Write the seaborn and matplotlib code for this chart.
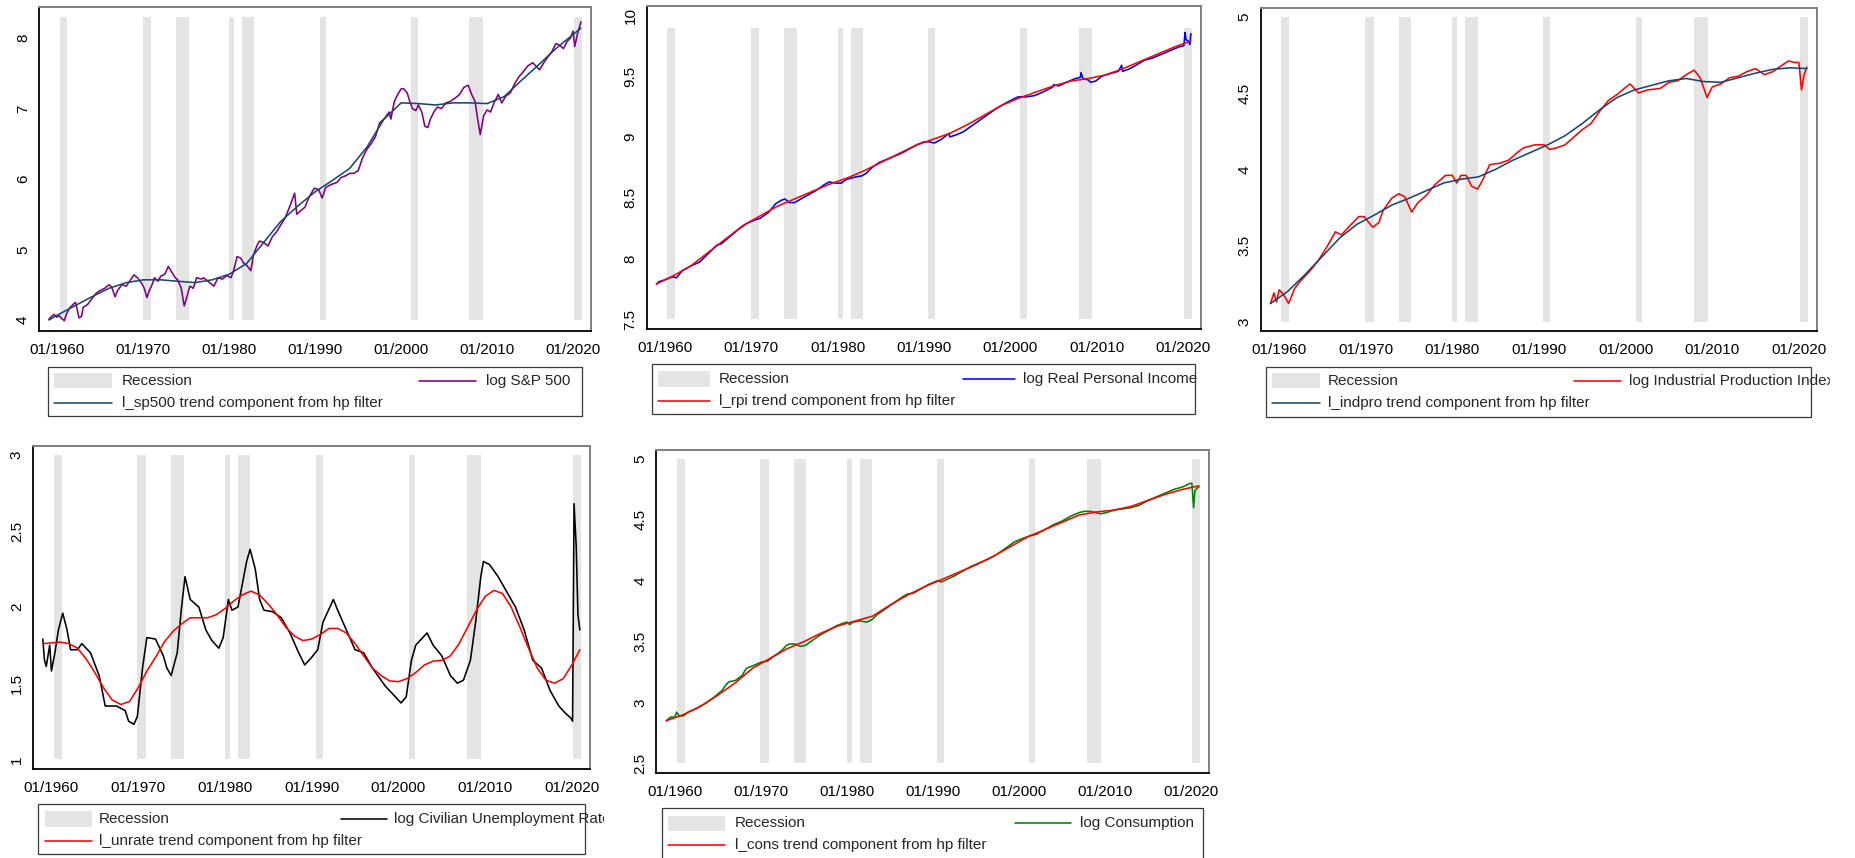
import numpy as np
import pandas as pd
import matplotlib
matplotlib.use("Agg")
import matplotlib.pyplot as plt
import seaborn as sns
from matplotlib.patches import Rectangle
from matplotlib.lines import Line2D
from matplotlib.transforms import Bbox, TransformedBbox

# ---------------------------------------------------------------- data
# NBER recession months (first and last month of each episode)
recession_start = ["1960-04", "1969-12", "1973-11", "1980-01", "1981-07",
                   "1990-07", "2001-03", "2007-12", "2020-02"]
recession_end = ["1961-02", "1970-11", "1975-03", "1980-07", "1982-11",
                 "1991-03", "2001-11", "2009-06", "2020-12"]

xtick_years = [1960, 1970, 1980, 1990, 2000, 2010, 2020]
xtick_labels = ["01/1960", "01/1970", "01/1980", "01/1990", "01/2000", "01/2010", "01/2020"]

# log S&P 500 and its HP trend
sp500_t = [1959.0, 1959.3, 1959.6, 1959.9, 1960.2, 1960.5, 1960.8, 1961.0, 1961.4, 1961.9,
           1962.1, 1962.3, 1962.5, 1962.8, 1963.0, 1963.5, 1964.0, 1964.5, 1965.0, 1965.5,
           1966.0, 1966.3, 1966.7, 1967.0, 1967.5, 1968.0, 1968.4, 1968.9, 1969.3, 1969.8,
           1970.1, 1970.4, 1970.7, 1971.0, 1971.3, 1971.7, 1972.0, 1972.5, 1972.9, 1973.3,
           1973.7, 1974.0, 1974.4, 1974.75, 1975.0, 1975.4, 1975.8, 1976.2, 1976.8, 1977.0,
           1977.5, 1978.2, 1978.7, 1979.2, 1979.7, 1980.2, 1980.5, 1980.9, 1981.3, 1981.7,
           1982.0, 1982.5, 1982.8, 1983.2, 1983.5, 1984.0, 1984.5, 1985.0, 1985.5, 1986.0,
           1986.5, 1987.0, 1987.6, 1987.85, 1988.3, 1988.8, 1989.3, 1989.9, 1990.4, 1990.8,
           1991.2, 1991.8, 1992.5, 1993.0, 1993.6, 1994.0, 1994.5, 1995.0, 1995.5, 1996.0,
           1996.5, 1997.0, 1997.5, 1998.0, 1998.6, 1998.8, 1999.2, 1999.6, 2000.0, 2000.3,
           2000.7, 2001.0, 2001.3, 2001.7, 2002.0, 2002.4, 2002.75, 2003.1, 2003.4, 2003.8,
           2004.2, 2004.7, 2005.2, 2005.7, 2006.3, 2006.8, 2007.3, 2007.8, 2008.2, 2008.6,
           2008.9, 2009.2, 2009.6, 2010.0, 2010.4, 2010.8, 2011.3, 2011.7, 2012.2, 2012.7,
           2013.2, 2013.7, 2014.2, 2014.7, 2015.3, 2015.7, 2016.1, 2016.6, 2017.0, 2017.5,
           2018.0, 2018.4, 2018.9, 2019.3, 2019.7, 2020.0, 2020.2, 2020.5, 2020.92]
sp500_v = [4.01, 4.05, 4.08, 4.04, 4.06, 4.02, 3.99, 4.07, 4.17, 4.23,
           4.25, 4.15, 4.03, 4.05, 4.18, 4.22, 4.30, 4.38, 4.42, 4.45,
           4.50, 4.47, 4.33, 4.42, 4.50, 4.48, 4.55, 4.64, 4.60, 4.52,
           4.45, 4.32, 4.42, 4.50, 4.60, 4.55, 4.62, 4.65, 4.76, 4.68,
           4.60, 4.57, 4.45, 4.20, 4.30, 4.48, 4.45, 4.60, 4.58, 4.60,
           4.55, 4.48, 4.60, 4.58, 4.63, 4.60, 4.70, 4.90, 4.88, 4.80,
           4.78, 4.70, 4.92, 5.05, 5.12, 5.10, 5.05, 5.18, 5.25, 5.35,
           5.45, 5.60, 5.80, 5.50, 5.55, 5.60, 5.75, 5.87, 5.85, 5.73,
           5.88, 5.92, 5.95, 6.02, 6.05, 6.08, 6.08, 6.12, 6.30, 6.42,
           6.50, 6.60, 6.80, 6.85, 6.95, 6.85, 7.10, 7.20, 7.28, 7.28,
           7.22, 7.10, 7.00, 6.97, 7.05, 6.95, 6.75, 6.73, 6.85, 6.95,
           7.02, 7.00, 7.08, 7.10, 7.15, 7.20, 7.30, 7.33, 7.20, 7.10,
           6.85, 6.63, 6.90, 6.98, 6.95, 7.08, 7.20, 7.08, 7.18, 7.22,
           7.35, 7.45, 7.52, 7.60, 7.65, 7.60, 7.55, 7.65, 7.72, 7.80,
           7.92, 7.90, 7.85, 7.95, 8.00, 8.10, 7.88, 8.05, 8.23]
sp500_trend_t = [1959.0, 1960, 1962, 1964, 1966, 1968, 1970, 1972, 1974, 1976, 1978, 1980,
                 1982, 1984, 1986, 1988, 1990, 1992, 1994, 1996, 1998, 2000, 2002, 2004,
                 2006, 2008, 2010, 2012, 2014, 2016, 2018, 2020, 2020.92]
sp500_trend_v = [4.00, 4.07, 4.20, 4.33, 4.45, 4.53, 4.57, 4.57, 4.55, 4.53, 4.57, 4.65,
                 4.80, 5.10, 5.40, 5.62, 5.82, 5.98, 6.15, 6.45, 6.85, 7.08, 7.07, 7.05,
                 7.08, 7.08, 7.07, 7.17, 7.40, 7.62, 7.85, 8.05, 8.14]

# log real personal income and its HP trend
rpi_t = [1959.0, 1959.3, 1959.8, 1960.5, 1961.0, 1961.3, 1962.0, 1963.0, 1964.0, 1965.0,
         1966.0, 1966.5, 1967.5, 1968.5, 1969.5, 1970.5, 1971.0, 1972.0, 1972.8, 1973.5,
         1973.9, 1974.4, 1975.0, 1975.5, 1976.5, 1977.5, 1978.5, 1979.0, 1979.8, 1980.4,
         1981.0, 1982.0, 1982.8, 1983.3, 1984.0, 1984.8, 1985.5, 1986.5, 1987.5, 1988.5,
         1989.3, 1990.0, 1990.6, 1991.2, 1992.0, 1992.9, 1993.0, 1993.8, 1994.5, 1995.5,
         1996.5, 1997.5, 1998.5, 1999.5, 2000.3, 2000.9, 2001.8, 2002.8, 2003.8, 2004.9,
         2005.0, 2005.6, 2006.5, 2007.5, 2008.1, 2008.2, 2008.4, 2009.0, 2009.3, 2009.9,
         2010.6, 2011.5, 2012.5, 2012.9, 2013.0, 2013.8, 2014.8, 2015.5, 2016.5, 2017.5,
         2018.5, 2019.5, 2020.1, 2020.25, 2020.35, 2020.6, 2020.8, 2020.92]
rpi_v = [7.79, 7.81, 7.82, 7.84, 7.85, 7.84, 7.90, 7.94, 7.97, 8.04,
         8.11, 8.12, 8.18, 8.24, 8.29, 8.32, 8.33, 8.38, 8.45, 8.48,
         8.49, 8.46, 8.46, 8.48, 8.52, 8.56, 8.61, 8.63, 8.62, 8.62,
         8.65, 8.67, 8.68, 8.70, 8.75, 8.79, 8.81, 8.84, 8.87, 8.91,
         8.94, 8.96, 8.96, 8.95, 8.98, 9.03, 9.00, 9.02, 9.04, 9.09,
         9.14, 9.19, 9.24, 9.28, 9.31, 9.33, 9.33, 9.34, 9.37, 9.41,
         9.43, 9.42, 9.45, 9.48, 9.49, 9.53, 9.48, 9.47, 9.45, 9.46,
         9.50, 9.52, 9.54, 9.59, 9.54, 9.56, 9.60, 9.63, 9.65, 9.68,
         9.71, 9.74, 9.75, 9.86, 9.80, 9.79, 9.76, 9.85]
rpi_trend_t = [1959.0, 1961, 1963, 1965, 1967, 1969, 1971, 1973, 1975, 1977, 1979, 1981,
               1983, 1985, 1987, 1989, 1991, 1993, 1995, 1997, 1999, 2001, 2003, 2005,
               2007, 2009, 2011, 2013, 2015, 2017, 2019, 2020.92]
rpi_trend_v = [7.79, 7.86, 7.94, 8.05, 8.16, 8.27, 8.35, 8.43, 8.49, 8.55, 8.61, 8.66,
               8.72, 8.79, 8.86, 8.93, 8.98, 9.03, 9.10, 9.18, 9.26, 9.32, 9.37, 9.42,
               9.46, 9.48, 9.51, 9.56, 9.62, 9.68, 9.74, 9.79]

# log industrial production index and its HP trend
indpro_t = [1959.0, 1959.4, 1959.7, 1960.0, 1960.5, 1961.1, 1961.8, 1962.5, 1963.5, 1964.5,
            1965.5, 1966.5, 1967.2, 1968.0, 1969.2, 1969.8, 1970.8, 1971.5, 1972.0, 1973.0,
            1973.8, 1974.5, 1975.3, 1976.0, 1977.0, 1978.0, 1979.2, 1980.0, 1980.5, 1981.0,
            1981.6, 1982.2, 1982.9, 1983.5, 1984.3, 1985.5, 1986.5, 1987.5, 1988.2, 1989.5,
            1990.6, 1991.2, 1992.0, 1993.0, 1994.0, 1995.0, 1996.0, 1997.0, 1998.0, 1999.0,
            2000.5, 2001.5, 2002.5, 2004.0, 2005.0, 2006.0, 2007.0, 2007.9, 2008.6, 2009.4,
            2010.0, 2011.0, 2012.0, 2013.0, 2014.0, 2015.0, 2016.0, 2017.0, 2018.0, 2018.8,
            2019.5, 2020.0, 2020.3, 2020.6, 2020.92]
indpro_v = [3.12, 3.19, 3.13, 3.21, 3.18, 3.12, 3.22, 3.27, 3.33, 3.40,
            3.49, 3.59, 3.57, 3.62, 3.69, 3.69, 3.62, 3.65, 3.73, 3.81,
            3.84, 3.82, 3.72, 3.78, 3.83, 3.90, 3.96, 3.96, 3.91, 3.96,
            3.96, 3.89, 3.87, 3.93, 4.03, 4.04, 4.06, 4.11, 4.14, 4.16,
            4.16, 4.13, 4.14, 4.16, 4.21, 4.26, 4.30, 4.38, 4.45, 4.49,
            4.56, 4.50, 4.52, 4.53, 4.57, 4.58, 4.62, 4.65, 4.60, 4.47,
            4.54, 4.56, 4.60, 4.61, 4.64, 4.66, 4.62, 4.64, 4.68, 4.71,
            4.70, 4.70, 4.52, 4.62, 4.67]
indpro_trend_t = [1959.0, 1961, 1963, 1965, 1967, 1969, 1971, 1973, 1975, 1977, 1979, 1981,
                  1983, 1985, 1987, 1989, 1991, 1993, 1995, 1997, 1999, 2001, 2003, 2005,
                  2007, 2009, 2011, 2013, 2015, 2017, 2019, 2020.92]
indpro_trend_v = [3.12, 3.20, 3.31, 3.43, 3.55, 3.64, 3.70, 3.765, 3.81, 3.86, 3.91, 3.935,
                  3.95, 4.00, 4.06, 4.11, 4.16, 4.22, 4.30, 4.39, 4.47, 4.52, 4.55, 4.58,
                  4.595, 4.575, 4.57, 4.60, 4.63, 4.655, 4.665, 4.66]

# log civilian unemployment rate and its HP trend
unrate_t = [1959.0, 1959.2, 1959.4, 1959.8, 1960.0, 1960.4, 1960.8, 1961.3, 1961.8, 1962.2,
            1963.0, 1963.5, 1964.5, 1965.5, 1966.2, 1967.5, 1968.5, 1968.9, 1969.5, 1969.9,
            1970.5, 1971.0, 1972.0, 1972.9, 1973.3, 1973.8, 1974.5, 1975.0, 1975.4, 1976.0,
            1977.0, 1977.8, 1978.5, 1979.3, 1979.8, 1980.4, 1980.8, 1981.5, 1982.5, 1982.9,
            1983.5, 1984.0, 1984.5, 1985.5, 1986.5, 1987.5, 1988.5, 1989.2, 1990.0, 1990.7,
            1991.3, 1992.5, 1993.0, 1994.0, 1995.0, 1996.0, 1997.0, 1998.5, 1999.5, 2000.3,
            2000.9, 2001.5, 2002.0, 2003.3, 2004.0, 2005.0, 2006.0, 2006.8, 2007.5, 2008.3,
            2008.9, 2009.5, 2009.8, 2010.5, 2011.5, 2012.5, 2013.5, 2014.5, 2015.5, 2016.5,
            2017.5, 2018.5, 2019.3, 2019.9, 2020.08, 2020.25, 2020.5, 2020.7, 2020.92]
unrate_v = [1.79, 1.65, 1.61, 1.75, 1.58, 1.70, 1.85, 1.96, 1.85, 1.72,
            1.72, 1.76, 1.70, 1.55, 1.35, 1.35, 1.32, 1.25, 1.23, 1.28,
            1.60, 1.80, 1.79, 1.68, 1.60, 1.55, 1.70, 2.00, 2.20, 2.05,
            2.00, 1.85, 1.78, 1.73, 1.80, 2.05, 1.98, 2.00, 2.30, 2.38,
            2.25, 2.05, 1.98, 1.97, 1.93, 1.83, 1.70, 1.62, 1.67, 1.72,
            1.90, 2.05, 1.98, 1.85, 1.72, 1.70, 1.60, 1.48, 1.42, 1.37,
            1.41, 1.65, 1.75, 1.83, 1.75, 1.68, 1.55, 1.50, 1.52, 1.65,
            1.90, 2.20, 2.30, 2.28, 2.20, 2.10, 2.00, 1.85, 1.65, 1.60,
            1.45, 1.35, 1.30, 1.27, 1.25, 2.68, 2.40, 1.95, 1.85]
unrate_trend_t = [1959.0, 1961, 1962, 1963, 1964, 1965, 1966, 1967, 1968, 1969, 1970, 1971,
                  1972, 1973, 1974, 1975, 1976, 1977, 1978, 1979, 1980, 1981, 1982, 1983,
                  1984, 1985, 1986, 1987, 1988, 1989, 1990, 1991, 1992, 1993, 1994, 1995,
                  1996, 1997, 1998, 1999, 2000, 2001, 2002, 2003, 2004, 2005, 2006, 2007,
                  2008, 2009, 2010, 2011, 2012, 2013, 2014, 2015, 2016, 2017, 2018, 2019,
                  2020, 2020.92]
unrate_trend_v = [1.76, 1.77, 1.76, 1.73, 1.66, 1.57, 1.47, 1.39, 1.36, 1.38, 1.47, 1.58,
                  1.67, 1.77, 1.84, 1.89, 1.93, 1.93, 1.93, 1.95, 1.99, 2.04, 2.08, 2.105,
                  2.08, 2.02, 1.95, 1.87, 1.81, 1.78, 1.79, 1.82, 1.86, 1.86, 1.83, 1.76,
                  1.68, 1.60, 1.55, 1.515, 1.51, 1.53, 1.57, 1.62, 1.645, 1.65, 1.68, 1.76,
                  1.87, 1.98, 2.07, 2.11, 2.09, 2.00, 1.87, 1.73, 1.60, 1.52, 1.50, 1.53,
                  1.62, 1.72]

# log consumption and its HP trend
cons_t = [1959.0, 1959.5, 1960.0, 1960.2, 1960.5, 1961.0, 1961.5, 1962.5, 1963.5, 1964.5,
          1965.5, 1966.0, 1966.3, 1967.0, 1967.8, 1968.3, 1969.0, 1970.0, 1970.8, 1971.5,
          1972.3, 1973.0, 1973.3, 1974.0, 1974.6, 1975.2, 1975.8, 1976.8, 1977.8, 1978.8,
          1979.5, 1980.0, 1980.3, 1980.7, 1981.5, 1982.3, 1982.9, 1983.5, 1984.5, 1985.5,
          1986.5, 1987.0, 1987.8, 1988.5, 1989.5, 1990.5, 1991.0, 1991.6, 1992.5, 1993.5,
          1994.5, 1995.5, 1996.5, 1997.5, 1998.5, 1999.5, 2000.5, 2001.3, 2002.0, 2003.0,
          2004.0, 2005.0, 2006.0, 2007.0, 2007.6, 2008.3, 2008.9, 2009.5, 2010.2, 2011.0,
          2012.0, 2013.0, 2014.0, 2015.0, 2016.0, 2017.0, 2018.0, 2019.0, 2019.9, 2020.1,
          2020.3, 2020.45, 2020.7, 2020.92]
cons_v = [2.85, 2.88, 2.88, 2.92, 2.89, 2.89, 2.92, 2.95, 2.99, 3.04,
          3.10, 3.15, 3.17, 3.18, 3.22, 3.28, 3.30, 3.33, 3.34, 3.38,
          3.42, 3.47, 3.48, 3.48, 3.46, 3.47, 3.50, 3.55, 3.59, 3.63,
          3.65, 3.66, 3.64, 3.66, 3.67, 3.66, 3.68, 3.72, 3.77, 3.82,
          3.87, 3.89, 3.90, 3.93, 3.97, 4.00, 3.99, 4.01, 4.04, 4.08,
          4.12, 4.15, 4.18, 4.22, 4.27, 4.32, 4.35, 4.37, 4.38, 4.42,
          4.46, 4.49, 4.53, 4.56, 4.57, 4.57, 4.56, 4.55, 4.56, 4.58,
          4.59, 4.60, 4.62, 4.66, 4.69, 4.72, 4.75, 4.77, 4.80, 4.80,
          4.60, 4.74, 4.76, 4.77]
cons_trend_t = [1959.0, 1961, 1963, 1965, 1967, 1969, 1971, 1973, 1975, 1977, 1979, 1981,
                1983, 1985, 1987, 1989, 1991, 1993, 1995, 1997, 1999, 2001, 2003, 2005,
                2007, 2009, 2011, 2013, 2015, 2017, 2019, 2020.92]
cons_trend_v = [2.85, 2.90, 2.97, 3.06, 3.16, 3.28, 3.36, 3.44, 3.50, 3.57, 3.63, 3.67,
                3.71, 3.80, 3.88, 3.95, 4.01, 4.07, 4.13, 4.20, 4.28, 4.36, 4.42, 4.48,
                4.54, 4.565, 4.58, 4.61, 4.66, 4.71, 4.75, 4.78]

# ---------------------------------------------------------------- style
W, H, DPI = 1855, 858, 100
sns.set_style("white")
plt.rcParams["font.family"] = ["Liberation Sans", "DejaVu Sans"]
FS = 11
REC_COLOR = "#e4e4e4"
NAVY = "#1a476f"

fig = plt.figure(figsize=(W / DPI, H / DPI), dpi=DPI)
fig.patch.set_facecolor("white")


def to_decimal(month_str, end=False):
    y, m = (int(p) for p in month_str.split("-"))
    return y + (m if end else m - 1) / 12.0


rec_lo = np.array([to_decimal(s) for s in recession_start])
rec_hi = np.array([to_decimal(s, end=True) for s in recession_end])


def fx(x):
    return x / W


def fy(y):
    return 1 - y / H


def panel(box, ylim, yticks, bar_range, series, trend, colors, legend, labels):
    x0, y0, x1, y1 = box
    ax = fig.add_axes([fx(x0), fy(y1), (x1 - x0) / W, (y1 - y0) / H])
    ax.set_facecolor("white")
    # recession shading as bars spanning each episode
    ax.bar(rec_lo, bar_range[1] - bar_range[0], width=rec_hi - rec_lo, bottom=bar_range[0],
           align="edge", color=REC_COLOR, linewidth=0, zorder=1)
    sdf = pd.DataFrame({"date": series[0], "value": series[1]})
    tdf = pd.DataFrame({"date": trend[0], "value": trend[1]})
    sns.lineplot(data=sdf, x="date", y="value", ax=ax, color=colors[0], linewidth=1.15,
                 estimator=None, sort=False, zorder=3)
    sns.lineplot(data=tdf, x="date", y="value", ax=ax, color=colors[1], linewidth=1.15,
                 estimator=None, sort=False, zorder=4)
    ax.set_xlim(1957.85, 2022.09)
    ax.set_ylim(*ylim)
    ax.set_xticks(xtick_years, labels=xtick_labels)
    ax.set_yticks(yticks, labels=[f"{v:g}" for v in yticks])
    ax.set_xlabel("")
    ax.set_ylabel("")
    ax.tick_params(axis="both", direction="out", length=4.5, width=0.9, color="black",
                   labelsize=FS, labelcolor="black")
    ax.tick_params(axis="x", pad=4)
    ax.tick_params(axis="y", pad=2, labelrotation=90)
    for lab in ax.get_yticklabels():
        lab.set_va("center")
    for side in ("left", "bottom"):
        ax.spines[side].set_color("black")
        ax.spines[side].set_linewidth(1.3)
    for side in ("top", "right"):
        ax.spines[side].set_color("#7f7f7f")
        ax.spines[side].set_linewidth(1.4)
    ax.grid(False)

    # legend block: box, recession key, trend key, series key
    bx0, by0, bx1, by1 = legend["box"]
    fig.add_artist(Rectangle((fx(bx0), fy(by1)), (bx1 - bx0) / W, (by1 - by0) / H,
                             transform=fig.transFigure, fill=False,
                             edgecolor="#3a3a3a", linewidth=0.9))
    px0, py0, px1, py1 = legend["patch"]
    fig.add_artist(Rectangle((fx(px0), fy(py1)), (px1 - px0) / W, (py1 - py0) / H,
                             transform=fig.transFigure, facecolor=REC_COLOR, edgecolor="none"))
    r1, r2 = legend["rows"]
    k1 = legend["key1"]
    k2 = legend["key2"]
    fig.add_artist(Line2D([fx(k1[0]), fx(k1[1])], [fy(r2), fy(r2)], transform=fig.transFigure,
                          color=colors[1], linewidth=1.15))
    fig.add_artist(Line2D([fx(k2[0]), fx(k2[1])], [fy(r1), fy(r1)], transform=fig.transFigure,
                          color=colors[0], linewidth=1.15))
    texts = [
        fig.text(fx(legend["text1"]), fy(r1), "Recession", fontsize=FS, va="center", ha="left"),
        fig.text(fx(legend["text1"]), fy(r2), labels[1], fontsize=FS, va="center", ha="left"),
        fig.text(fx(legend["text2"]), fy(r1), labels[0], fontsize=FS, va="center", ha="left"),
    ]
    if legend.get("clip") is not None:
        clip = TransformedBbox(Bbox.from_extents(0, 0, fx(legend["clip"]), 1), fig.transFigure)
        for t in texts:
            t.set_clip_box(clip)
            t.set_clip_on(True)
    return ax


panel((39, 7, 591, 331), (3.844, 8.44), [4, 5, 6, 7, 8], (4, 8.3),
      (sp500_t, sp500_v), (sp500_trend_t, sp500_trend_v), ("#800080", NAVY),
      dict(box=(48, 367, 582, 416), patch=(54, 373, 112, 388), rows=(381, 403),
           key1=(54, 112), text1=122, key2=(419, 476), text2=486),
      ("log S&P 500", "l_sp500 trend component from hp filter"))

panel((646.5, 5.7, 1201, 329), (7.42, 10.08), [7.5, 8, 8.5, 9, 9.5, 10], (7.5, 9.9),
      (rpi_t, rpi_v), (rpi_trend_t, rpi_trend_v), ("#0000ff", "#ff0000"),
      dict(box=(652, 364, 1195, 414), patch=(658, 371, 710, 387), rows=(379, 401),
           key1=(658, 710), text1=719, key2=(963, 1014.5), text2=1023),
      ("log Real Personal Income", "l_rpi trend component from hp filter"))

panel((1260.5, 8, 1817, 331), (2.94, 5.057), [3, 3.5, 4, 4.5, 5], (3, 5),
      (indpro_t, indpro_v), (indpro_trend_t, indpro_trend_v), ("#ff0000", NAVY),
      dict(box=(1266, 367, 1811, 417), patch=(1272, 373, 1320, 388), rows=(381, 403),
           key1=(1272, 1320), text1=1328, key2=(1574, 1621), text2=1629, clip=1830),
      ("log Industrial Production Index", "l_indpro trend component from hp filter"))

panel((32.8, 445.7, 590, 769), (0.936, 3.061), [1, 1.5, 2, 2.5, 3], (1, 3),
      (unrate_t, unrate_v), (unrate_trend_t, unrate_trend_v), ("#000000", "#ff0000"),
      dict(box=(38, 804, 585, 854), patch=(44.7, 811, 91.7, 827), rows=(819, 841),
           key1=(44.7, 91.7), text1=99, key2=(340.7, 386.6), text2=394.5, clip=604),
      ("log Civilian Unemployment Rate", "l_unrate trend component from hp filter"))

panel((656.4, 450, 1209, 772.7), (2.423, 5.074), [2.5, 3, 3.5, 4, 4.5, 5], (2.5, 5),
      (cons_t, cons_v), (cons_trend_t, cons_trend_v), ("#008000", "#ff0000"),
      dict(box=(662, 808, 1203, 872), patch=(668, 815.7, 725, 830.7), rows=(823, 845),
           key1=(668, 725), text1=734.6, key2=(1014.5, 1070.6), text2=1079.7),
      ("log Consumption", "l_cons trend component from hp filter"))

fig.savefig("out.png", dpi=DPI, facecolor="white")
